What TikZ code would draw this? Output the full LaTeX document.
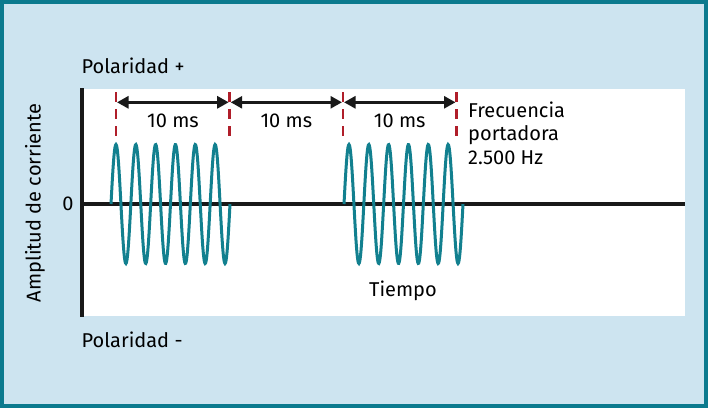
\documentclass[tikz,border=0pt]{standalone}
\usepackage{fontspec}
\setmainfont{Fira Sans}
\usetikzlibrary{arrows.meta}
\definecolor{marco}{HTML}{0B7A8E}
\definecolor{fondo}{HTML}{CDE4F0}
\definecolor{onda}{HTML}{12808F}
\definecolor{rojo}{HTML}{B01E2A}
\begin{document}
\begin{tikzpicture}
            [
                x = 1pt, y = -1pt,
                texto/.style = {font=\fontsize{20}{23.5}\selectfont, inner sep=0pt},
                eje/.style = {line width=3.2pt, black!90},
                marca/.style = {rojo, line width=2.8pt, dash pattern=on 9.5pt off 7.5pt},
                intervalo/.style = {line width=2.7pt, black!90, {Triangle[length=11.5pt,width=12pt]}-{Triangle[length=11.5pt,width=12pt]}, shorten <=1pt, shorten >=1pt},
                senal/.style = {onda, line width=3pt}
            ]
            \useasboundingbox (0,0) rectangle (708,408);
            \draw[marco, fill=fondo, line width=4pt] (2,2) rectangle (706,406);
            \fill[white] (82,89) rectangle (685,316);
            % ejes
            \coordinate (O) at (82,204);
            \coordinate (arriba) at (82,88);
            \coordinate (abajo) at (82,317);
            \coordinate (fin) at (685,204);
            \draw[eje] (arriba) -- (abajo);
            \draw[eje] (O) -- (fin);
            % trenes de onda
            \draw[senal] plot[domain=0:119, samples=240] ({111+\x}, {204-59.5*sin(\x/119*2160)});
            \draw[senal] plot[domain=0:119, samples=240] ({344+\x}, {204-59.5*sin(\x/119*2160)});
            % marcas de tiempo
            \coordinate (m1) at (116,92.3);
            \coordinate (m2) at (229.7,92.3);
            \coordinate (m3) at (343,92.3);
            \coordinate (m4) at (456.5,92.3);
            \coordinate (n1) at (116,137);
            \coordinate (n2) at (229.7,137);
            \coordinate (n3) at (343,137);
            \coordinate (n4) at (456.5,137);
            \draw[marca] (m1) -- (n1);
            \draw[marca] (m2) -- (n2);
            \draw[marca] (m3) -- (n3);
            \draw[marca] (m4) -- (n4);
            \coordinate (a1) at (116,102.3);
            \coordinate (a2) at (229.7,102.3);
            \coordinate (a3) at (343,102.3);
            \coordinate (a4) at (456.5,102.3);
            \draw[intervalo] (a1) -- (a2);
            \draw[intervalo] (a2) -- (a3);
            \draw[intervalo] (a3) -- (a4);
            \node[texto] (t1) at (173,120.5) {10 ms};
            \node[texto] (t2) at (286.3,120.5) {10 ms};
            \node[texto] (t3) at (399.7,120.5) {10 ms};
            % rotulos
            \node[texto, anchor=north west, align=left] (frec) at (468,101.5) {Frecuencia\\portadora\\2.500 Hz};
            \node[texto, anchor=base west] (polmas) at (81.5,73.3) {Polaridad +};
            \node[texto, anchor=base west] (polmenos) at (81.5,347) {Polaridad -};
            \node[texto, anchor=base] (tiempo) at (403,296) {Tiempo};
            \node[texto] (cero) at (68,204) {0};
            \node[texto, rotate=90] (amp) at (35,203) {Amplitud de corriente};
\end{tikzpicture}
\end{document}
